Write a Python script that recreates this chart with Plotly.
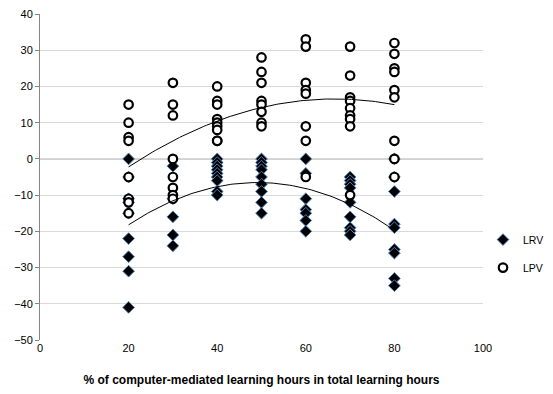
import numpy as np
import plotly.graph_objects as go

# Share of computer-mediated learning hours (%) and observed values per group.
# Some LRV points sit underneath LPV circles (same x, same value).
lrv_x = [20]*9 + [30]*5 + [40]*9 + [50]*9 + [60]*7 + [70]*9 + [80]*9
lrv_y = [0, -5, -11, -12, -15, -22, -27, -31, -41,
         -2, -11, -16, -21, -24,
         0, -1, -2, -3, -4, -5, -6, -9, -10,
         0, -1, -2, -3, -5, -7, -9, -12, -15,
         0, -4, -11, -14, -15, -17, -20,
         -5, -6, -7, -8, -12, -16, -19, -20, -21,
         0, -5, -9, -18, -19, -25, -26, -33, -35]

lpv_x = [20]*8 + [30]*8 + [40]*9 + [50]*8 + [60]*8 + [70]*9 + [80]*9
lpv_y = [15, 10, 6, 5, -5, -11, -12, -15,
         21, 15, 12, 0, -5, -8, -10, -11,
         20, 16, 15, 11, 10, 9, 8, 5, 5,
         28, 24, 21, 16, 15, 13, 10, 9,
         33, 31, 21, 19, 18, 9, 5, -5,
         31, 23, 17, 16, 14, 12, 11, 9, -10,
         32, 29, 25, 24, 19, 17, 5, 0, -5]

x_ticks = [0, 20, 40, 60, 80, 100]
y_ticks = list(range(-50, 41, 10))

FONT = "Liberation Sans"


def quad_trend(xs, ys):
    coef = np.polyfit(xs, ys, 2)
    xt = np.linspace(min(xs), max(xs), 100)
    return xt, np.polyval(coef, xt)


fig = go.Figure()

fig.add_trace(go.Scatter(
    x=lrv_x, y=lrv_y, mode="markers", name="LRV", legendgroup="lrv",
    marker=dict(symbol="diamond", size=9, color="black",
                line=dict(color="#4F81BD", width=1))))

fig.add_trace(go.Scatter(
    x=lpv_x, y=lpv_y, mode="markers", name="LPV", legendgroup="lpv",
    marker=dict(symbol="circle", size=8.5, color="white",
                line=dict(color="black", width=2.2))))

# second-order polynomial trend lines
for xs, ys in [(lrv_x, lrv_y), (lpv_x, lpv_y)]:
    xt, yt = quad_trend(xs, ys)
    fig.add_trace(go.Scatter(x=xt, y=yt, mode="lines",
                             line=dict(color="black", width=1),
                             showlegend=False, hoverinfo="skip"))

# horizontal axis line crossing at zero
fig.add_shape(type="line", xref="x", yref="y", x0=0, x1=100, y0=0, y1=0,
              line=dict(color="#868686", width=1), layer="below")

fig.update_layout(
    width=553, height=394,
    margin=dict(l=40, r=70, t=14, b=54, autoexpand=False),
    plot_bgcolor="white", paper_bgcolor="white",
    font=dict(family=FONT, size=11, color="black"),
    legend=dict(x=1.0, y=0.265, xanchor="left", yanchor="middle",
                font=dict(size=10.5), itemwidth=30, tracegroupgap=9,
                bgcolor="rgba(0,0,0,0)"),
    xaxis=dict(range=[0, 100], tickvals=x_ticks, showgrid=False,
               zeroline=False, showline=False, ticks="",
               title=dict(text="<b>% of computer-mediated learning hours in total learning hours</b>",
                          font=dict(size=12), standoff=22)),
    yaxis=dict(range=[-50, 40], tickvals=y_ticks, showgrid=True,
               gridcolor="#D9D9D9", gridwidth=1, zeroline=False,
               showline=True, linecolor="#868686", ticks="outside",
               ticklen=4, tickcolor="#868686"),
)

fig.write_html("out.html")
